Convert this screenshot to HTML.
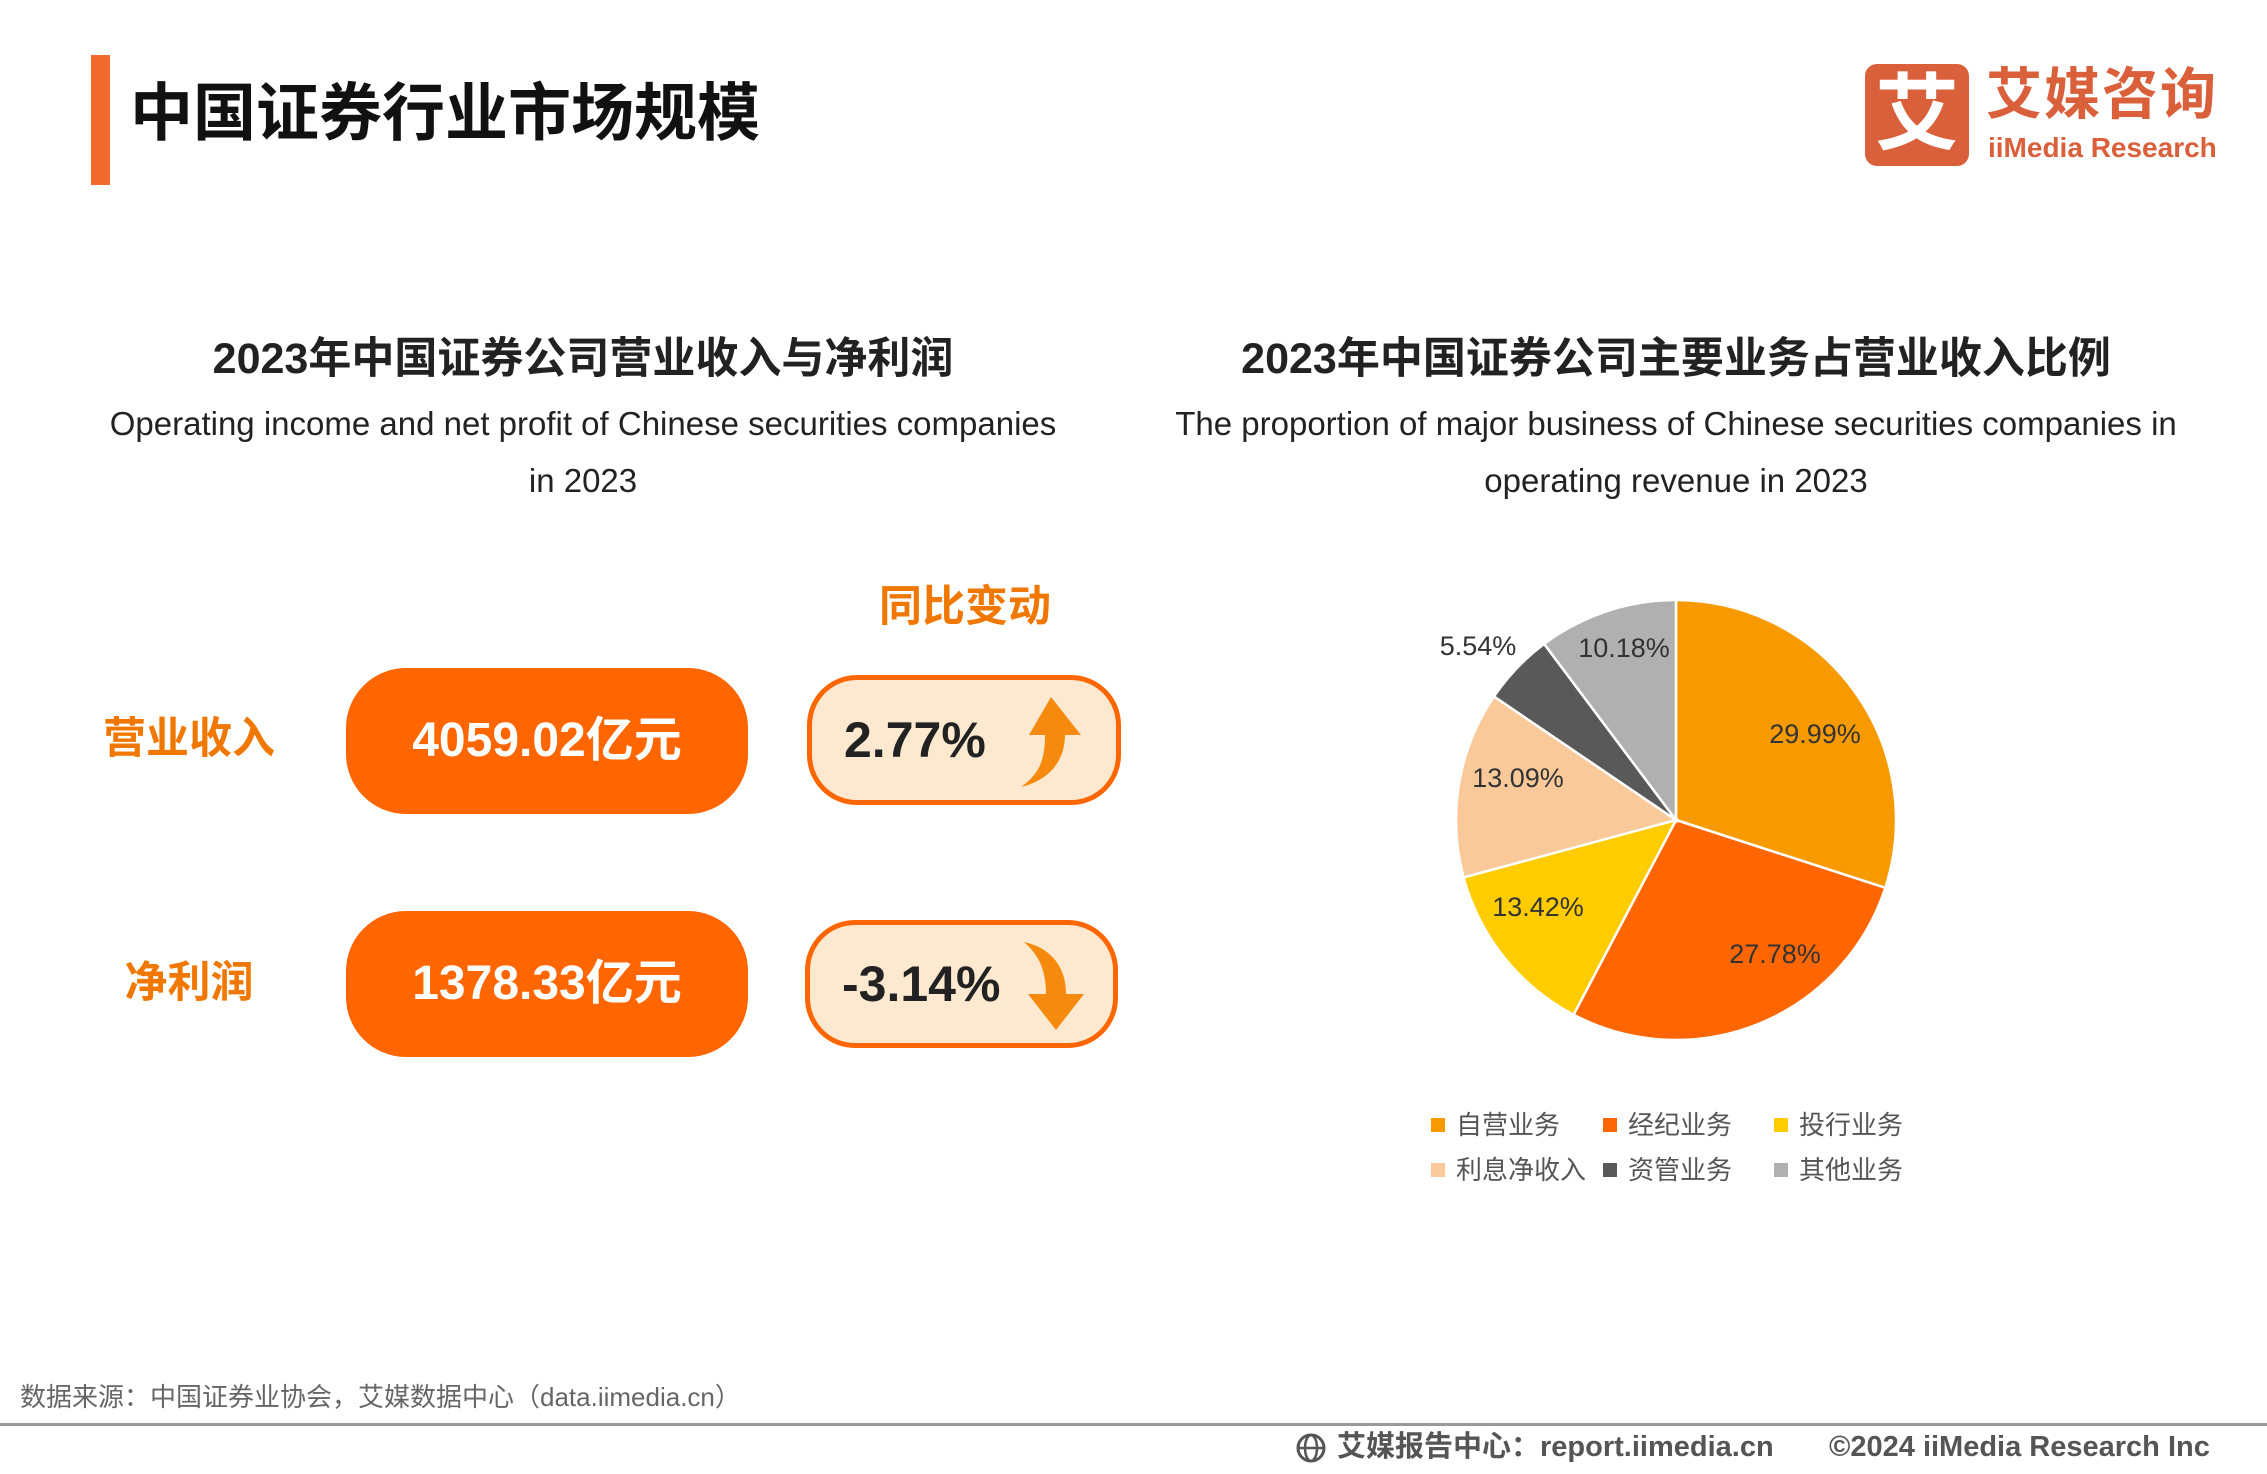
<!DOCTYPE html>
<html><head><meta charset="utf-8"><style>
*{margin:0;padding:0;box-sizing:border-box}
body{width:2267px;height:1474px;background:#fff;position:relative;overflow:hidden;font-family:"Liberation Sans","Noto Sans CJK SC",sans-serif;color:#222}
.a{position:absolute;white-space:nowrap}
.c{transform:translateX(-50%)}
</style></head><body>
<div class="a" style="left:91px;top:55px;width:19px;height:130px;background:#F26A2E"></div>
<div class="a" style="left:130px;top:76px;font-size:63px;font-weight:bold;line-height:76px;color:#111">中国证券行业市场规模</div>
<div class="a" style="left:1865px;top:64px;width:104px;height:102px;background:#D9603B;border-radius:12px;color:#fff;font-size:84px;font-weight:bold;text-align:center;line-height:100px">艾</div>
<div class="a" style="left:1986px;top:62px;font-size:56px;font-weight:bold;color:#D9603B;line-height:66px;letter-spacing:2px">艾媒咨询</div>
<div class="a" style="left:1988px;top:131px;font-size:28px;font-weight:bold;color:#D9603B;line-height:34px">iiMedia Research</div>

<div class="a c" style="left:583px;top:332px;font-size:43px;font-weight:bold;line-height:54px">2023年中国证券公司营业收入与净利润</div>
<div class="a c" style="left:583px;top:403px;font-size:33px;line-height:42px">Operating income and net profit of Chinese securities companies</div>
<div class="a c" style="left:583px;top:460px;font-size:33px;line-height:42px">in 2023</div>
<div class="a c" style="left:1676px;top:332px;font-size:43px;font-weight:bold;line-height:54px">2023年中国证券公司主要业务占营业收入比例</div>
<div class="a c" style="left:1676px;top:403px;font-size:33px;line-height:42px">The proportion of major business of Chinese securities companies in</div>
<div class="a c" style="left:1676px;top:460px;font-size:33px;line-height:42px">operating revenue in 2023</div>

<div class="a c" style="left:965px;top:580px;font-size:43px;font-weight:bold;color:#F07800;line-height:54px">同比变动</div>
<div class="a c" style="left:189px;top:712px;font-size:43px;font-weight:bold;color:#F07800;line-height:54px">营业收入</div>
<div class="a c" style="left:189px;top:956px;font-size:43px;font-weight:bold;color:#F07800;line-height:54px">净利润</div>

<div class="a" style="left:346px;top:668px;width:402px;height:146px;border-radius:60px;background:#FF6600;color:#fff;font-size:48px;font-weight:bold;text-align:center;line-height:146px">4059.02亿元</div>
<div class="a" style="left:346px;top:911px;width:402px;height:146px;border-radius:60px;background:#FF6600;color:#fff;font-size:48px;font-weight:bold;text-align:center;line-height:146px">1378.33亿元</div>

<div class="a" style="left:807px;top:675px;width:314px;height:130px;border-radius:50px;background:#FDE9CF;border:5px solid #FF6600"></div>
<div class="a" style="left:844px;top:710px;font-size:50px;font-weight:bold;line-height:60px">2.77%</div>
<svg class="a" style="left:1015px;top:695px" width="70" height="95" viewBox="0 0 70 95"><path d="M36 2 L66 40 L50 40 C50 65 35 85 6 92 C26 78 30 62 30 40 L14 40 Z" fill="#F68A0E"/></svg>

<div class="a" style="left:805px;top:920px;width:313px;height:128px;border-radius:50px;background:#FDE9CF;border:5px solid #FF6600"></div>
<div class="a" style="left:842px;top:954px;font-size:50px;font-weight:bold;line-height:60px">-3.14%</div>
<svg class="a" style="left:1020px;top:938px" width="70" height="95" viewBox="0 0 70 95"><path d="M4 4 C32 10 46 30 46 56 L64 56 L36 92 L8 56 L26 56 C26 34 20 18 4 4 Z" fill="#F68A0E"/></svg>

<svg class="a" style="left:0;top:0" width="2267" height="1474">
<g stroke="#fff" stroke-width="2.5" transform="translate(1676,820)">
<path d="M0,0 L0.00,-220.00 A220,220 0 0,1 209.28,67.84 Z" fill="#F79A00"/>
<path d="M0,0 L209.28,67.84 A220,220 0 0,1 -102.44,194.70 Z" fill="#FF6600"/>
<path d="M0,0 L-102.44,194.70 A220,220 0 0,1 -212.37,57.45 Z" fill="#FFCC00"/>
<path d="M0,0 L-212.37,57.45 A220,220 0 0,1 -182.03,-123.54 Z" fill="#F9C99A"/>
<path d="M0,0 L-182.03,-123.54 A220,220 0 0,1 -131.88,-176.09 Z" fill="#595959"/>
<path d="M0,0 L-131.88,-176.09 A220,220 0 0,1 0,-220 Z" fill="#B0B0B0"/>
</g>
<g font-size="27" fill="#333" text-anchor="middle" font-family="Liberation Sans, sans-serif">
<text x="1815" y="743">29.99%</text>
<text x="1775" y="963">27.78%</text>
<text x="1538" y="916">13.42%</text>
<text x="1518" y="787">13.09%</text>
<text x="1478" y="655">5.54%</text>
<text x="1624" y="657">10.18%</text>
</g>
</svg>

<div class="a" style="left:1431px;top:1118px;width:14px;height:14px;background:#F79A00"></div>
<div class="a" style="left:1456px;top:1108px;font-size:26px;color:#555;line-height:34px">自营业务</div>
<div class="a" style="left:1603px;top:1118px;width:14px;height:14px;background:#FF6600"></div>
<div class="a" style="left:1628px;top:1108px;font-size:26px;color:#555;line-height:34px">经纪业务</div>
<div class="a" style="left:1774px;top:1118px;width:14px;height:14px;background:#FFCC00"></div>
<div class="a" style="left:1799px;top:1108px;font-size:26px;color:#555;line-height:34px">投行业务</div>
<div class="a" style="left:1431px;top:1163px;width:14px;height:14px;background:#F9C99A"></div>
<div class="a" style="left:1456px;top:1153px;font-size:26px;color:#555;line-height:34px">利息净收入</div>
<div class="a" style="left:1603px;top:1163px;width:14px;height:14px;background:#595959"></div>
<div class="a" style="left:1628px;top:1153px;font-size:26px;color:#555;line-height:34px">资管业务</div>
<div class="a" style="left:1774px;top:1163px;width:14px;height:14px;background:#B0B0B0"></div>
<div class="a" style="left:1799px;top:1153px;font-size:26px;color:#555;line-height:34px">其他业务</div>

<div class="a" style="left:20px;top:1381px;font-size:26px;color:#666;line-height:32px">数据来源：中国证券业协会，艾媒数据中心（data.iimedia.cn）</div>
<div class="a" style="left:0;top:1423px;width:2267px;height:3px;background:#999"></div>
<svg class="a" style="left:1295px;top:1432px" width="32" height="32" viewBox="0 0 32 32"><circle cx="16" cy="16" r="13" fill="none" stroke="#555" stroke-width="3"/><ellipse cx="16" cy="16" rx="6" ry="13" fill="none" stroke="#555" stroke-width="2.5"/><line x1="3" y1="16" x2="29" y2="16" stroke="#555" stroke-width="2.5"/></svg>
<div class="a" style="left:1337px;top:1430px;font-size:29px;font-weight:bold;color:#555;line-height:34px">艾媒报告中心：report.iimedia.cn</div>
<div class="a" style="left:1829px;top:1430px;font-size:29px;font-weight:bold;color:#555;line-height:34px">©2024  iiMedia Research Inc</div>
</body></html>
